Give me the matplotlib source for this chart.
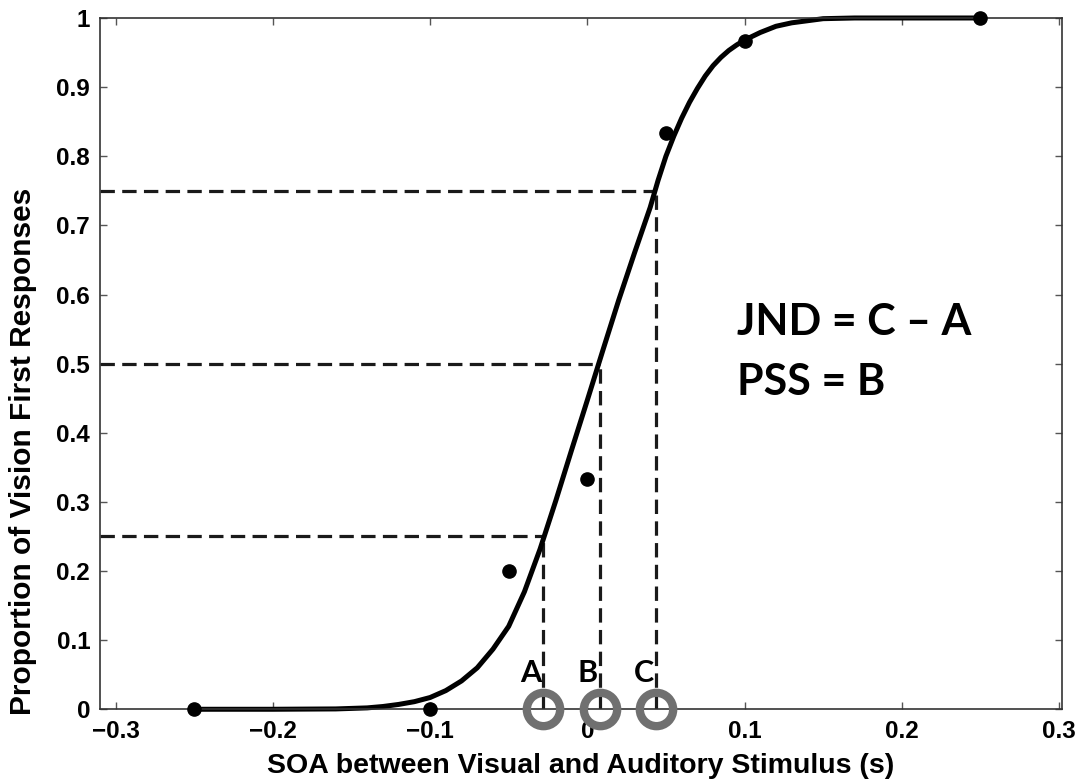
import matplotlib
matplotlib.use('Agg')
import matplotlib.pyplot as plt

# observed proportions
soa = [-0.25, -0.1, -0.05, 0.0, 0.05, 0.1, 0.25]
prop = [0.0, 0.0, 0.2, 0.333, 0.833, 0.967, 1.0]

# fitted curve
fit_x = [-0.25, -0.20, -0.16, -0.14, -0.13, -0.12, -0.11, -0.10, -0.09, -0.08,
         -0.07, -0.06, -0.05, -0.04, -0.03, -0.02, -0.01, 0.0, 0.01, 0.02,
         0.03, 0.04, 0.045, 0.05, 0.055, 0.06, 0.065, 0.07, 0.075, 0.08,
         0.085, 0.09, 0.095, 0.10, 0.11, 0.12, 0.13, 0.14, 0.15, 0.17,
         0.20, 0.25]
fit_y = [0.0, 0.0, 0.0005, 0.002, 0.004, 0.007, 0.011, 0.017, 0.027, 0.041,
         0.060, 0.087, 0.120, 0.170, 0.232, 0.302, 0.375, 0.447, 0.520, 0.592,
         0.660, 0.726, 0.765, 0.800, 0.829, 0.855, 0.878, 0.898, 0.916, 0.931,
         0.943, 0.953, 0.961, 0.968, 0.979, 0.988, 0.993, 0.996, 0.999, 1.0,
         1.0, 1.0]

# A, B, C thresholds and their levels
marks = ['A', 'B', 'C']
mark_x = [-0.028, 0.008, 0.044]
mark_lev = [0.25, 0.5, 0.75]

fig = plt.figure(figsize=(10.86, 7.82), dpi=100)
ax = fig.add_axes([0.092, 0.093, 0.886, 0.884])

ax.set_xlim(-0.31, 0.302)
ax.set_ylim(0, 1)

dash = (0, (4.5, 2.3))
for xv, lv in zip(mark_x, mark_lev):
    ax.plot([-0.31, xv], [lv, lv], color='#1a1a1a', lw=2.3, linestyle=dash)
    ax.plot([xv, xv], [0.0, lv], color='#1a1a1a', lw=2.3, linestyle=dash)

ax.plot(fit_x, fit_y, color='black', lw=3.6, solid_capstyle='round',
        solid_joinstyle='round', clip_on=False)
ax.plot(soa, prop, 'o', color='black', markersize=9.5, clip_on=False, zorder=4)

ax.plot(mark_x, [0] * 3, 'o', markersize=24, markerfacecolor='none',
        markeredgecolor='#707070', markeredgewidth=6, clip_on=False, zorder=5)
for lab, xv in zip(marks, mark_x):
    ax.text(xv - 0.008, 0.039, lab, ha='center', va='baseline', fontsize=22,
            family='Lato', fontweight='bold')

ax.text(0.0955, 0.541, 'JND = C \u2013 A', ha='left', va='baseline', fontsize=31,
        family='Lato', fontweight='bold')
ax.text(0.0955, 0.454, 'PSS = B', ha='left', va='baseline', fontsize=31,
        family='Lato', fontweight='bold')

ax.set_xticks([-0.3, -0.2, -0.1, 0, 0.1, 0.2, 0.3])
ax.set_xticklabels(['\u22120.3', '\u22120.2', '\u22120.1', '0', '0.1', '0.2', '0.3'])
ax.set_yticks([0, 0.1, 0.2, 0.3, 0.4, 0.5, 0.6, 0.7, 0.8, 0.9, 1])
ax.set_yticklabels(['0', '0.1', '0.2', '0.3', '0.4', '0.5', '0.6', '0.7', '0.8', '0.9', '1'])
ax.tick_params(direction='in', length=5, width=1, color='#555555', top=True, right=True,
               labelsize=17.5)
ax.tick_params(axis='x', pad=8)
ax.tick_params(axis='y', pad=7)
for t in ax.get_xticklabels() + ax.get_yticklabels():
    t.set_family('Liberation Sans')
    t.set_fontweight('bold')
for s in ax.spines.values():
    s.set_linewidth(1.2)
    s.set_color('#333333')

ax.set_xlabel('SOA between Visual and Auditory Stimulus (s)', fontsize=20.5,
              family='Liberation Sans', fontweight='bold')
ax.set_ylabel('Proportion of Vision First Responses', fontsize=21.5,
              family='Liberation Sans', fontweight='bold')
ax.xaxis.set_label_coords(0.5, -0.063)
ax.yaxis.set_label_coords(-0.0655, 0.373)

fig.savefig('out.png', dpi=100)
